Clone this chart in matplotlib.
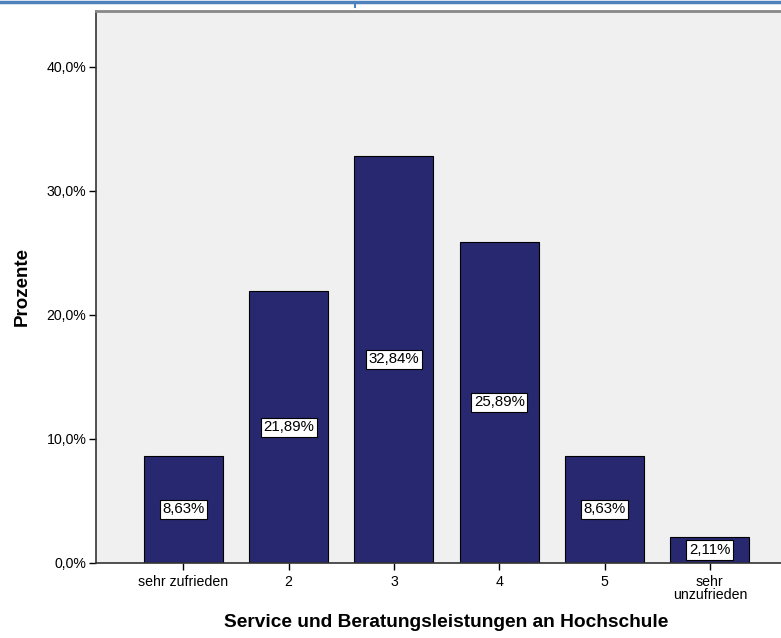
import matplotlib.pyplot as plt
from matplotlib.lines import Line2D

# Daten
kategorien = ["sehr zufrieden", "2", "3", "4", "5", "sehr\nunzufrieden"]
prozente = [8.63, 21.89, 32.84, 25.89, 8.63, 2.11]
y_ticks = [0, 10, 20, 30, 40]

plt.rcParams["font.family"] = ["Liberation Sans", "DejaVu Sans"]

fig = plt.figure(figsize=(7.81, 6.38), dpi=100)
ax = fig.add_axes([96 / 781, 1 - 563 / 638, 1 - 96 / 781 + 0.01, (563 - 11) / 638])
ax.set_facecolor("#f0f0f0")

x = list(range(len(kategorien)))
ax.bar(x, prozente, width=0.75, color="#282870", edgecolor="black", linewidth=0.8, zorder=2)

# Beschriftung in den Balken
for xi, v in zip(x, prozente):
    ax.text(xi, v / 2, ("%.2f%%" % v).replace(".", ","), ha="center", va="center",
            fontsize=10.8, zorder=3,
            bbox=dict(boxstyle="square,pad=0.18", fc="white", ec="black", lw=0.8))

ax.set_xlim(-0.83, 5.75)
ax.set_ylim(0, 44.5)
ax.set_xticks(x)
ax.set_xticklabels(kategorien, fontsize=10.2, linespacing=0.85)
ax.set_yticks(y_ticks)
ax.set_yticklabels([("%.1f%%" % t).replace(".", ",") for t in y_ticks], fontsize=10.2)
ax.tick_params(direction="out", length=5, width=1, color="black", pad=2)
ax.tick_params(axis="x", pad=4)

for s in ax.spines.values():
    s.set_color("#333333")
    s.set_linewidth(1.2)
ax.spines["top"].set_color("#888888")
ax.spines["top"].set_linewidth(2)

ax.set_ylabel("Prozente", fontsize=13.5, fontweight="bold")
ax.yaxis.set_label_coords(-0.106, 0.5)
ax.yaxis.label.set_va("center")
ax.set_xlabel("Service und Beratungsleistungen an Hochschule", fontsize=13.8,
              fontweight="bold")
ax.xaxis.set_label_coords(0.505, -0.107)
ax.xaxis.label.set_va("center")

# blaue Linie oben
fig.add_artist(Line2D([0, 1], [1 - 2 / 638, 1 - 2 / 638], color="#4f81bd", lw=2.5,
                      transform=fig.transFigure))
fig.add_artist(Line2D([355 / 781, 355 / 781], [1 - 2 / 638, 1 - 7 / 638], color="#4f81bd",
                      lw=1.5, transform=fig.transFigure))

fig.savefig("out.png", dpi=100)
